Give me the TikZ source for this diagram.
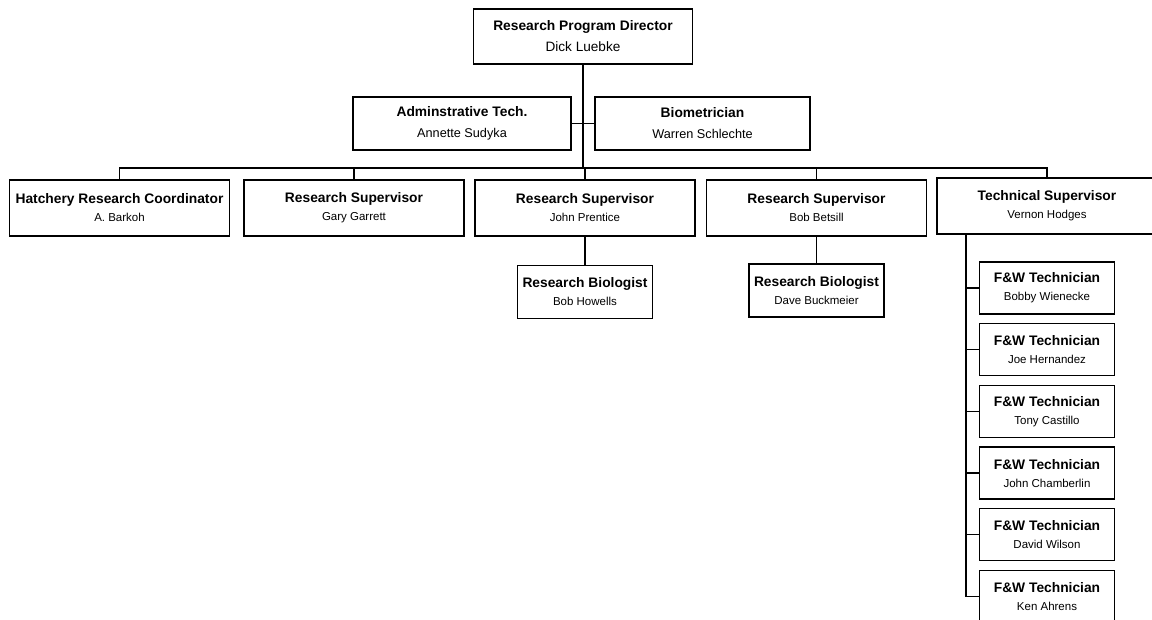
\documentclass[tikz,border=0pt]{standalone}
\usepackage{fontspec}
\setmainfont{Liberation Sans}
\usepackage{tikz}

\newcommand{\post}[2]{{\bfseries\fontsize{13.8}{16}\selectfont #1}\\#2}

\begin{document}
\begin{tikzpicture}[x=1pt,y=-1pt,line width=1.3pt,
  box/.style={draw,fill=white,align=center,inner sep=0pt},
  head/.style={box,minimum width=219,minimum height=55,font=\fontsize{13.6}{21}\selectfont},
  staff/.style={box,minimum width=218,minimum height=53,font=\fontsize{12.7}{21}\selectfont},
  lead/.style={box,minimum width=220,minimum height=56,font=\fontsize{11.5}{18}\selectfont},
  biol/.style={box,minimum width=135,minimum height=53,font=\fontsize{11.5}{18}\selectfont},
  tech/.style={box,minimum width=135,minimum height=52,font=\fontsize{11.5}{18}\selectfont}]
\useasboundingbox (0,0) rectangle (1152,620);

% top of the chart
\node[head] (dir) at (583,36.5) {\post{Research Program Director}{Dick Luebke}};
\node[staff] (admin) at (462,123.5) {\post{Adminstrative Tech.}{Annette Sudyka}};
\node[staff,minimum width=215] (bio) at (702.5,123.5) {\post{Biometrician}{Warren Schlechte}};

% supervisors
\node[lead] (hatch) at (119.5,208) {\post{Hatchery Research Coordinator}{A. Barkoh}};
\node[lead] (gary) at (354,208) {\post{Research Supervisor}{Gary Garrett}};
\node[lead] (prentice) at (585,208) {\post{Research Supervisor}{John Prentice}};
\node[lead] (betsill) at (816.5,208) {\post{Research Supervisor}{Bob Betsill}};
\node[lead] (techsup) at (1047,206) {\post{Technical Supervisor}{Vernon Hodges}};

% biologists
\node[biol] (howells) at (585,292) {\post{Research Biologist}{Bob Howells}};
\node[biol] (buckmeier) at (816.5,290.5) {\post{Research Biologist}{Dave Buckmeier}};

% technicians
\foreach \name [count=\k from 0] in {Bobby Wienecke,Joe Hernandez,Tony Castillo,John Chamberlin,David Wilson,Ken Ahrens}
  \node[tech] (fw\k) at (1047,288+61.7*\k) {\post{F\&W Technician}{\name}};

% lines
\coordinate (bar) at (1047,168);
\coordinate (trunk) at (966,0);
\draw (dir.south) -- (dir.south |- bar);
\draw (admin.east) -- (bio.west);
\draw (hatch.north) |- (bar) -- (techsup.north);
\foreach \n in {gary,prentice,betsill}
  \draw (\n.north) -- (\n.north |- bar);
\draw (prentice.south) -- (howells.north);
\draw (betsill.south) -- (buckmeier.north);
\draw (techsup.south -| trunk) |- (fw5.west);
\foreach \k in {0,...,4}
  \draw (fw\k.west) -- (fw\k.west -| trunk);
\end{tikzpicture}
\end{document}
